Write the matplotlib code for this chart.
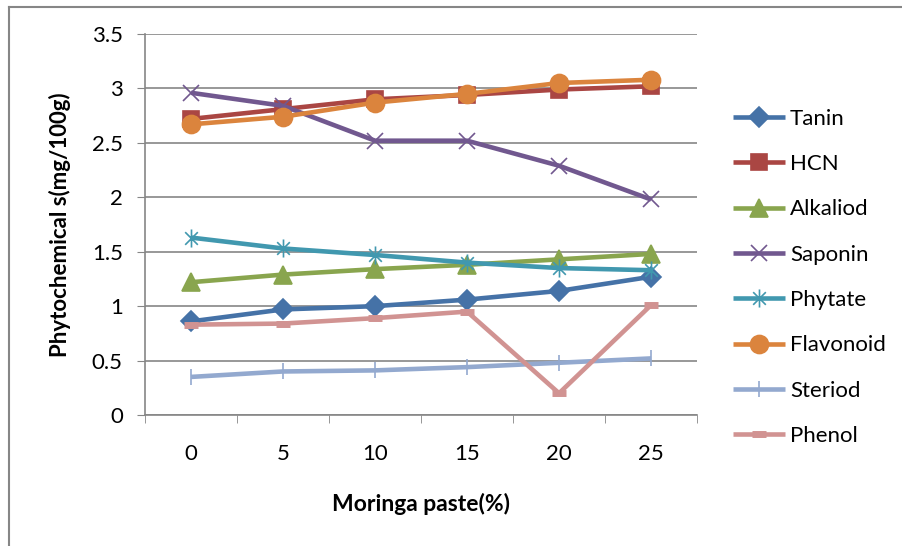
import matplotlib
matplotlib.use('Agg')
import matplotlib.pyplot as plt
from matplotlib.lines import Line2D
from matplotlib.path import Path

plt.rcParams['font.family'] = ['Lato', 'DejaVu Sans']

# dados
moringa = ['0', '5', '10', '15', '20', '25']
tanin = [0.86, 0.97, 1.00, 1.06, 1.14, 1.27]
hcn = [2.72, 2.81, 2.90, 2.94, 2.99, 3.02]
alkaliod = [1.22, 1.29, 1.34, 1.38, 1.43, 1.48]
saponin = [2.96, 2.84, 2.52, 2.52, 2.29, 1.98]
phytate = [1.63, 1.53, 1.47, 1.40, 1.35, 1.33]
flavonoid = [2.67, 2.74, 2.87, 2.95, 3.05, 3.08]
steriod = [0.35, 0.40, 0.41, 0.44, 0.48, 0.52]
phenol = [0.83, 0.84, 0.89, 0.95, 0.20, 1.01]

# asterisco estilo Excel (vertical + X)
asterisco = Path([(0, -1), (0, 1), (-0.7, -0.7), (0.7, 0.7), (-0.7, 0.7), (0.7, -0.7)],
                 [Path.MOVETO, Path.LINETO] * 3)

series = [
    ('Tanin', tanin, '#4572A7', 'D', 10.5),
    ('HCN', hcn, '#AA4643', 's', 12),
    ('Alkaliod', alkaliod, '#89A54E', '^', 12.5),
    ('Saponin', saponin, '#71588F', 'x', 12),
    ('Phytate', phytate, '#4198AF', asterisco, 13),
    ('Flavonoid', flavonoid, '#DB843D', 'o', 13),
    ('Steriod', steriod, '#93A9CF', '|', 12),
    ('Phenol', phenol, '#D19392', '_', 10),
]

grey = '#868686'
fs = 16

fig = plt.figure(figsize=(9.02, 5.46), dpi=100)
ax = fig.add_axes([0.1608, 0.2399, 0.612, 0.6978])

xs = list(range(len(moringa)))
for name, vals, col, mk, ms in series:
    mew = 1.2
    if mk == '_':
        mew = 5
    ax.plot(xs, vals, color=col, lw=3.3, marker=mk, markersize=ms,
            markeredgecolor=col, markerfacecolor=col, markeredgewidth=mew,
            label=name, solid_capstyle='butt')

ax.set_xlim(-0.5, 5.5)
ax.set_ylim(0, 3.5)
ax.set_yticks([0, 0.5, 1, 1.5, 2, 2.5, 3, 3.5])
ax.set_yticklabels(['0', '0.5', '1', '1.5', '2', '2.5', '3', '3.5'])
ax.set_xticks(xs)
ax.set_xticklabels(moringa)
ax.set_xticks([i - 0.5 for i in range(len(moringa) + 1)], minor=True)
ax.tick_params(axis='x', which='major', length=0, pad=21, labelsize=fs)
ax.tick_params(axis='x', which='minor', length=6, color=grey, direction='out')
ax.tick_params(axis='y', length=6, color=grey, direction='out', pad=10, labelsize=fs)
ax.yaxis.grid(True, color=grey, lw=1.2)
ax.set_axisbelow(True)

ax.spines['top'].set_visible(False)
ax.spines['right'].set_visible(False)
ax.spines['left'].set_color(grey)
ax.spines['bottom'].set_color(grey)
ax.spines['left'].set_linewidth(1.2)
ax.spines['bottom'].set_linewidth(1.2)

ax.set_xlabel('Moringa paste(%)', fontweight='bold', fontsize=16.5, labelpad=21)
ax.set_ylabel('Phytochemical s(mg/100g)', fontweight='bold', fontsize=fs, labelpad=15)

fig.legend(loc='center left', bbox_to_anchor=(0.8126, 0.4918), frameon=False,
           fontsize=fs, handlelength=2.34, handletextpad=0.22, labelspacing=1.14,
           borderpad=0, borderaxespad=0)

# moldura do grafico (esquerda e topo)
fig.add_artist(Line2D([9 / 902, 9 / 902], [0, 1 - 7 / 546], color=grey, lw=1.5))
fig.add_artist(Line2D([9 / 902, 1], [1 - 7 / 546, 1 - 7 / 546], color=grey, lw=1.5))

fig.savefig('out.png', dpi=100)
